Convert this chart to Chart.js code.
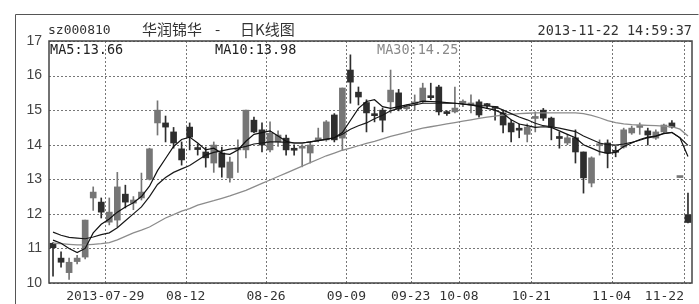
<!DOCTYPE html>
<html>
<head>
<meta charset="utf-8">
<script src="https://cdn.jsdelivr.net/npm/chart.js@4.4.0/dist/chart.umd.min.js"></script>
<style>
  html, body { margin: 0; padding: 0; background: #fff; }
  canvas { display: block; }
</style>
</head>
<body>
<canvas id="kline" width="699" height="304"></canvas>
<script>
// trading days shown on the chart (one candle each)
const dates = [
  '2013-07-18','2013-07-19','2013-07-22','2013-07-23','2013-07-24','2013-07-25','2013-07-26','2013-07-29','2013-07-30','2013-07-31',
  '2013-08-01','2013-08-02','2013-08-05','2013-08-06','2013-08-07','2013-08-08','2013-08-09','2013-08-12','2013-08-13','2013-08-14',
  '2013-08-15','2013-08-16','2013-08-19','2013-08-20','2013-08-21','2013-08-22','2013-08-23','2013-08-26','2013-08-27','2013-08-28',
  '2013-08-29','2013-08-30','2013-09-02','2013-09-03','2013-09-04','2013-09-05','2013-09-06','2013-09-09','2013-09-10','2013-09-11',
  '2013-09-12','2013-09-13','2013-09-16','2013-09-17','2013-09-18','2013-09-23','2013-09-24','2013-09-25','2013-09-26','2013-09-27',
  '2013-09-30','2013-10-08','2013-10-09','2013-10-10','2013-10-11','2013-10-14','2013-10-15','2013-10-16','2013-10-17','2013-10-18',
  '2013-10-21','2013-10-22','2013-10-23','2013-10-24','2013-10-25','2013-10-28','2013-10-29','2013-10-30','2013-10-31','2013-11-01',
  '2013-11-04','2013-11-05','2013-11-06','2013-11-07','2013-11-08','2013-11-11','2013-11-12','2013-11-13','2013-11-14','2013-11-22'
];

const open = [
  11.15,10.72,10.30,10.62,10.75,12.46,12.34,11.76,11.82,12.57,
  12.31,12.46,13.00,14.63,14.63,14.37,13.88,14.51,13.90,13.79,
  13.47,13.76,13.04,13.85,13.85,14.71,14.43,13.85,14.08,14.19,
  13.87,13.90,13.76,14.14,14.14,14.86,14.19,16.16,15.52,15.22,
  14.88,15.00,15.24,15.50,15.04,15.18,15.24,15.40,15.67,14.93,
  14.95,15.20,15.15,15.24,15.15,15.08,14.92,14.63,14.45,14.30,
  14.76,15.00,14.77,14.20,14.05,14.20,13.79,12.89,13.97,14.05,
  13.80,13.93,14.34,14.50,14.40,14.19,14.37,14.63,13.05,11.97
];
const high = [
  11.17,10.90,10.72,10.80,11.82,12.78,12.46,12.46,13.20,12.83,
  12.50,13.18,13.90,15.27,14.83,14.50,14.08,14.63,14.02,13.93,
  14.08,13.93,13.64,14.14,15.00,14.80,14.63,14.66,14.40,14.28,
  14.00,14.00,14.08,14.48,14.70,14.90,15.64,16.60,15.67,15.30,
  15.09,15.06,16.16,15.60,15.15,15.44,15.78,15.78,15.72,14.98,
  15.67,15.30,15.44,15.30,15.20,15.10,15.00,14.71,14.60,14.60,
  14.95,15.05,14.80,14.37,14.30,14.43,13.79,13.65,14.14,14.14,
  13.95,14.48,14.54,14.63,14.48,14.43,14.60,14.70,13.05,12.60
];
const low = [
  10.20,10.46,10.10,10.55,10.70,12.10,11.88,11.68,11.62,12.17,
  12.12,12.40,12.98,14.28,14.08,13.90,13.41,13.85,13.70,13.35,
  13.20,13.06,12.92,13.20,13.62,14.35,13.79,13.79,13.95,13.70,
  13.70,13.36,13.47,14.08,14.10,14.08,13.85,15.20,15.15,14.37,
  14.66,14.37,14.92,14.98,15.00,15.00,15.21,15.30,14.86,14.85,
  14.92,15.10,14.92,14.80,15.05,14.71,14.34,14.08,14.20,14.08,
  14.37,14.70,14.14,13.90,14.00,13.47,12.60,12.78,13.70,13.33,
  13.65,13.90,14.30,14.30,13.99,14.15,14.35,14.48,13.05,11.74
];
const close = [
  11.02,10.60,10.60,10.72,11.82,12.63,12.05,12.05,12.78,12.34,
  12.40,12.63,13.88,15.00,14.51,14.05,13.56,14.22,13.86,13.62,
  13.99,13.35,13.50,13.90,15.00,14.37,13.99,14.33,14.28,13.85,
  13.84,13.95,13.99,14.19,14.66,14.14,15.64,15.81,15.38,14.92,
  14.84,14.71,15.58,15.03,15.08,15.22,15.64,15.36,14.95,14.90,
  15.06,15.22,15.17,14.86,15.13,15.05,14.57,14.37,14.42,14.51,
  14.79,14.77,14.51,14.18,14.20,13.79,13.04,13.62,14.00,13.76,
  13.78,14.43,14.48,14.52,14.28,14.37,14.57,14.51,13.05,11.75
];

// moving averages
const ma5 = [
  11.24,11.15,11.00,10.88,11.00,11.45,11.70,11.85,12.05,12.20,
  12.32,12.50,12.80,13.25,13.60,13.95,14.15,14.22,14.05,13.85,
  13.90,13.75,13.72,13.85,14.10,14.30,14.35,14.40,14.25,14.10,
  14.05,14.05,14.08,14.12,14.16,14.20,14.35,14.70,15.05,15.25,
  15.30,15.10,15.05,15.10,15.15,15.20,15.26,15.25,15.24,15.22,
  15.20,15.17,15.15,15.10,15.05,15.00,14.90,14.72,14.60,14.55,
  14.50,14.52,14.50,14.40,14.30,14.20,14.00,13.90,13.80,13.75,
  13.78,13.95,14.05,14.15,14.22,14.25,14.33,14.35,14.20,13.66
];
const ma10 = [
  11.47,11.38,11.32,11.30,11.28,11.33,11.40,11.45,11.60,11.80,
  12.00,12.20,12.50,12.85,13.05,13.20,13.30,13.40,13.55,13.70,
  13.78,13.82,13.87,13.90,13.95,14.02,14.05,14.08,14.08,14.07,
  14.05,14.05,14.08,14.12,14.15,14.20,14.30,14.45,14.55,14.63,
  14.75,14.85,14.98,15.05,15.12,15.15,15.20,15.20,15.20,15.20,
  15.20,15.18,15.15,15.13,15.12,15.10,15.00,14.90,14.80,14.72,
  14.62,14.55,14.52,14.48,14.43,14.38,14.25,14.15,14.05,14.00,
  13.99,14.02,14.07,14.13,14.20,14.25,14.32,14.36,14.20,13.98
];
const ma30 = [
  11.15,11.14,11.12,11.10,11.10,11.12,11.14,11.17,11.25,11.35,
  11.45,11.53,11.62,11.75,11.88,11.98,12.08,12.15,12.25,12.32,
  12.38,12.45,12.52,12.60,12.68,12.78,12.88,12.98,13.08,13.18,
  13.28,13.38,13.48,13.58,13.68,13.76,13.84,13.90,13.97,14.04,
  14.10,14.17,14.24,14.30,14.36,14.42,14.48,14.52,14.56,14.60,
  14.64,14.68,14.72,14.76,14.80,14.83,14.86,14.88,14.90,14.91,
  14.92,14.92,14.92,14.92,14.92,14.92,14.90,14.85,14.78,14.70,
  14.64,14.60,14.58,14.57,14.56,14.55,14.54,14.52,14.45,14.25
];

const xTickIdx = [7, 17, 27, 37, 45, 51, 60, 70, 79];
const xTickLabels = ['2013-07-29', '08-12', '08-26', '09-09', '09-23', '10-08', '10-21', '11-04', '11-22'];
const yTicks = [10, 11, 12, 13, 14, 15, 16, 17];

const UP = '#767676';
const DOWN = '#2e2e2e';
const candleColors = dates.map((d, i) => close[i] >= open[i] ? UP : DOWN);
const bodies = dates.map((d, i) => ({ x: i, y: [open[i], close[i]] }));
const wicks = dates.map((d, i) => ({ x: i, y: [low[i], high[i]] }));
const toPts = arr => arr.map((v, i) => ({ x: i, y: v }));

// dotted grid at the date separators and whole prices, placed by the chart's scales
const dottedGrid = {
  id: 'dottedGrid',
  beforeDatasetsDraw(chart) {
    const { ctx, chartArea: a } = chart;
    const x = chart.scales.x;
    const y = chart.scales.y;
    ctx.save();
    ctx.strokeStyle = '#777777';
    ctx.lineWidth = 1;
    ctx.setLineDash([2, 2]);
    ctx.beginPath();
    xTickIdx.forEach(i => {
      const px = Math.round(x.getPixelForValue(i - 0.5)) + 0.5;
      ctx.moveTo(px, a.top);
      ctx.lineTo(px, a.bottom);
    });
    yTicks.forEach(v => {
      const py = Math.round(y.getPixelForValue(v)) + 0.5;
      ctx.moveTo(a.left, py);
      ctx.lineTo(a.right, py);
    });
    ctx.stroke();
    ctx.restore();
  }
};

// frame, title line and MA readouts
const decor = {
  id: 'decor',
  afterDraw(chart) {
    const { ctx, chartArea: a } = chart;
    ctx.save();
    ctx.strokeStyle = '#555';
    ctx.lineWidth = 1;
    ctx.beginPath();
    ctx.moveTo(15.5, 304); ctx.lineTo(15.5, 14.5); ctx.lineTo(698.5, 14.5);
    ctx.stroke();
    ctx.strokeStyle = '#444';
    ctx.lineWidth = 1.5;
    ctx.strokeRect(a.left, a.top, a.right - a.left, a.bottom - a.top);

    ctx.textBaseline = 'middle';
    ctx.fillStyle = '#333';
    ctx.font = '13px "DejaVu Sans Mono"';
    ctx.textAlign = 'left';
    ctx.fillText('sz000810', 48, 31);
    ctx.font = '15px "Noto Sans CJK SC"';
    ctx.fillText('华润锦华', 142, 29);
    ctx.fillText('-', 215, 29);
    ctx.fillText('日K线图', 240, 29);
    ctx.font = '13.5px "DejaVu Sans Mono"';
    ctx.textAlign = 'right';
    ctx.fillText('2013-11-22 14:59:37', 692, 31);

    ctx.textAlign = 'left';
    ctx.fillStyle = '#222';
    ctx.fillText('MA5:' + ma5[ma5.length - 1].toFixed(2), 50, 50);
    ctx.fillText('MA10:' + ma10[ma10.length - 1].toFixed(2), 215, 50);
    ctx.fillStyle = '#8a8a8a';
    ctx.fillText('MA30:' + ma30[ma30.length - 1].toFixed(2), 377, 50);
    ctx.restore();
  }
};

new Chart(document.getElementById('kline'), {
  type: 'bar',
  data: {
    datasets: [
      { type: 'line', label: 'MA5', data: toPts(ma5), borderColor: '#111', borderWidth: 1.2, pointRadius: 0, order: 0 },
      { type: 'line', label: 'MA10', data: toPts(ma10), borderColor: '#1a1a1a', borderWidth: 1.2, pointRadius: 0, order: 0 },
      { type: 'line', label: 'MA30', data: toPts(ma30), borderColor: '#8c8c8c', borderWidth: 1.3, pointRadius: 0, order: 0 },
      { label: 'body', data: bodies, backgroundColor: candleColors, barThickness: 6, minBarLength: 2, grouped: false, order: 1 },
      { label: 'wick', data: wicks, backgroundColor: candleColors, barThickness: 1, grouped: false, order: 2 }
    ]
  },
  options: {
    responsive: false,
    animation: false,
    layout: { padding: { top: 41, right: 7, left: 0, bottom: 0 } },
    plugins: { legend: { display: false }, tooltip: { enabled: false } },
    scales: {
      x: {
        type: 'linear',
        min: -0.5,
        max: dates.length - 0.5,
        offset: false,
        grid: { display: false, drawTicks: false, offset: false },
        border: { display: false },
        afterBuildTicks: s => { s.ticks = xTickIdx.map(i => ({ value: i - 0.5 })); },
        afterFit: s => { s.height = 21; s.paddingLeft = 0; s.paddingRight = 0; },
        ticks: {
          autoSkip: false,
          maxRotation: 0,
          padding: 6,
          color: '#333',
          font: { family: 'DejaVu Sans Mono', size: 13 },
          callback: (v, i) => i === xTickLabels.length - 1 ? xTickLabels[i] + '     ' : xTickLabels[i]
        }
      },
      y: {
        min: 10,
        max: 17,
        grid: { display: false, drawTicks: false },
        border: { display: false },
        afterBuildTicks: s => { s.ticks = yTicks.map(v => ({ value: v })); },
        afterFit: s => { s.width = 49; },
        ticks: { padding: 7, color: '#444', font: { family: 'Liberation Sans', size: 14 } }
      }
    }
  },
  plugins: [dottedGrid, decor]
});
</script>
</body>
</html>
